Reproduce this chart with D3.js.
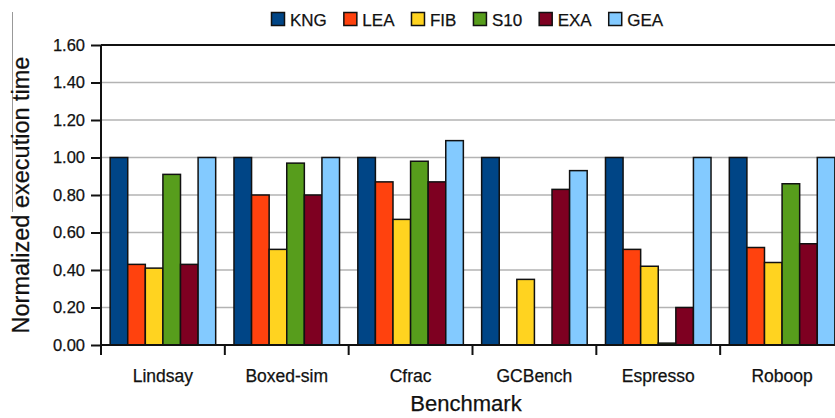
<!DOCTYPE html>
<html>
<head>
<meta charset="utf-8">
<script src="https://cdn.jsdelivr.net/npm/d3@7"></script>
<style>
  body { margin: 0; background: #fff; }
  svg { display: block; font-family: "Liberation Sans", Arial, sans-serif; }
  svg text { stroke: #111; stroke-width: 0.25px; }
</style>
</head>
<body>
<svg id="chart" width="835" height="418"></svg>
<script>
// benchmarks and series
var benchmarks = ["Lindsay", "Boxed-sim", "Cfrac", "GCBench", "Espresso", "Roboop"];
var series = ["KNG", "LEA", "FIB", "S10", "EXA", "GEA"];
var colors = ["#004586", "#ff420e", "#ffd320", "#579d1c", "#7e0021", "#83caff"];

var KNG = [1.00, 1.00, 1.00, 1.00, 1.00, 1.00];
var LEA = [0.43, 0.80, 0.87, 0.00, 0.51, 0.52];
var FIB = [0.41, 0.51, 0.67, 0.35, 0.42, 0.44];
var S10 = [0.91, 0.97, 0.98, 0.00, 0.01, 0.86];
var EXA = [0.43, 0.80, 0.87, 0.83, 0.20, 0.54];
var GEA = [1.00, 1.00, 1.09, 0.93, 1.00, 1.00];

var yTicks = [0, 0.2, 0.4, 0.6, 0.8, 1.0, 1.2, 1.4, 1.6];

function draw() {
    var values = [KNG, LEA, FIB, S10, EXA, GEA];
    var data = benchmarks.map(function(b, i) {
        return { name: b, bars: series.map(function(s, j) { return { key: s, value: values[j][i] }; }) };
    });

    var svg = d3.select("#chart");
    var mLeft = 101, mTop = 45, mBottom = 345, mRight = 844, edge = 835;
    var ink = "#111";

    var x0 = d3.scaleBand().domain(benchmarks).range([mLeft, mRight]).padding(0);
    var x1 = d3.scaleBand().domain(series).range([0, x0.bandwidth()]).paddingInner(0).paddingOuter(0.52);
    var y = d3.scaleLinear().domain([0, 1.6]).range([mBottom, mTop]);
    var color = d3.scaleOrdinal().domain(series).range(colors);

    // stray line on the left edge of the source image
    svg.append("line")
        .attr("x1", 12.5).attr("x2", 12.5).attr("y1", 12).attr("y2", 212)
        .attr("stroke", "#999").attr("stroke-width", 1);

    // gridlines
    svg.append("g")
        .selectAll("line")
        .data(yTicks.filter(function(t) { return t > 0 && t < 1.6; }))
        .enter().append("line")
        .attr("x1", mLeft).attr("x2", edge)
        .attr("y1", function(d) { return y(d); }).attr("y2", function(d) { return y(d); })
        .attr("stroke", "#b3b3b3").attr("stroke-width", 1.5);

    // top frame line
    svg.append("line")
        .attr("x1", mLeft).attr("x2", edge).attr("y1", y(1.6)).attr("y2", y(1.6))
        .attr("stroke", ink).attr("stroke-width", 2);

    // bars
    var groups = svg.append("g").selectAll("g")
        .data(data)
        .enter().append("g")
        .attr("transform", function(d) { return "translate(" + x0(d.name) + ",0)"; });

    groups.selectAll("rect")
        .data(function(d) { return d.bars.filter(function(b) { return b.value > 0; }); })
        .enter().append("rect")
        .attr("x", function(d) { return x1(d.key); })
        .attr("width", x1.bandwidth())
        .attr("y", function(d) { return y(d.value); })
        .attr("height", function(d) { return y(0) - y(d.value); })
        .attr("fill", function(d) { return color(d.key); })
        .attr("stroke", ink).attr("stroke-width", 1.5);

    // y axis
    var yAxis = d3.axisLeft(y).tickValues(yTicks).tickFormat(d3.format(".2f")).tickSize(10).tickPadding(6);
    var gy = svg.append("g").attr("transform", "translate(" + mLeft + ",0)").call(yAxis);
    gy.select(".domain").remove();
    gy.selectAll(".tick line").attr("stroke", ink).attr("stroke-width", 2);
    gy.selectAll(".tick text").attr("fill", ink).style("font-size", "16.5px").attr("font-family", null);
    svg.append("line")
        .attr("x1", mLeft).attr("x2", mLeft).attr("y1", mTop).attr("y2", mBottom + 10)
        .attr("stroke", ink).attr("stroke-width", 2);

    // x baseline and group separators
    svg.append("line")
        .attr("x1", mLeft).attr("x2", edge).attr("y1", mBottom).attr("y2", mBottom)
        .attr("stroke", ink).attr("stroke-width", 2);
    svg.append("g").selectAll("line")
        .data(benchmarks.slice(1))
        .enter().append("line")
        .attr("x1", function(d) { return x0(d); }).attr("x2", function(d) { return x0(d); })
        .attr("y1", mBottom).attr("y2", mBottom + 10)
        .attr("stroke", ink).attr("stroke-width", 2);

    // category labels
    svg.append("g").selectAll("text")
        .data(benchmarks)
        .enter().append("text")
        .attr("x", function(d) { return x0(d) + x0.bandwidth() / 2; })
        .attr("y", 382)
        .attr("text-anchor", "middle")
        .style("font-size", "17.5px")
        .attr("fill", ink)
        .text(function(d) { return d; });

    // axis titles
    svg.append("text")
        .attr("x", 466).attr("y", 411)
        .attr("text-anchor", "middle")
        .style("font-size", "22px")
        .attr("fill", ink)
        .text("Benchmark");

    svg.append("text")
        .attr("transform", "translate(29,195) rotate(-90)")
        .attr("text-anchor", "middle")
        .style("font-size", "23.5px")
        .attr("fill", ink)
        .text("Normalized execution time");

    // legend
    var legend = svg.append("g");
    var lx = 271;
    series.forEach(function(s) {
        legend.append("rect")
            .attr("x", lx + 0.5).attr("y", 12.5).attr("width", 13).attr("height", 13)
            .attr("fill", color(s)).attr("stroke", ink).attr("stroke-width", 1.5);
        var t = legend.append("text")
            .attr("x", lx + 19).attr("y", 26)
            .style("font-size", "17px")
            .attr("fill", ink)
            .text(s);
        lx += 19 + t.node().getComputedTextLength() + 16.5;
    });
}

draw();
</script>
</body>
</html>
